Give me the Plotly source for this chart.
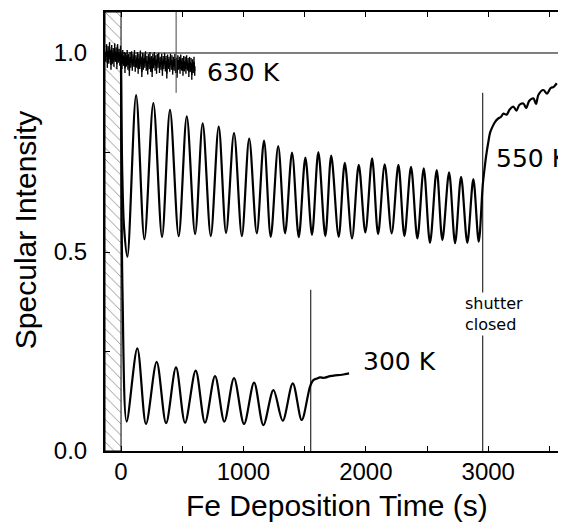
import plotly.graph_objects as go

# 630 K: noisy trace just under 1.0
t630 = [-125, -118, -112, -106, -100, -94, -88, -82, -76, -70, -64, -58, -52, -46, -40, -34, -28,
        -22, -16, -10, -4, 2, 8, 14, 20, 26, 32, 38, 44, 50, 56, 62, 68, 74, 80, 86, 92, 98, 104,
        110, 116, 122, 128, 134, 140, 146, 152, 158, 164, 170, 176, 182, 188, 194, 200, 206, 212,
        218, 224, 230, 236, 242, 248, 254, 260, 266, 272, 278, 284, 290, 296, 302, 308, 314, 320,
        326, 332, 338, 344, 350, 356, 362, 368, 374, 380, 386, 392, 398, 404, 410, 416, 422, 428,
        434, 440, 446, 452, 458, 464, 470, 476, 482, 488, 494, 500, 506, 512, 518, 524, 530, 536,
        542, 548, 554, 560, 566, 572, 578, 584, 590, 596, 602]
i630 = [0.990, 1.010, 0.975, 1.005, 0.985, 1.015, 0.995, 0.970, 1.008, 0.985, 1.000, 0.978, 1.012,
        0.990, 1.002, 0.972, 1.010, 0.988, 0.998, 0.980, 1.006, 0.985, 0.972, 0.995, 0.980, 0.990,
        0.962, 0.988, 0.978, 0.995, 0.970, 0.985, 0.955, 0.990, 0.975, 0.992, 0.968, 0.985, 0.978,
        0.995, 0.965, 0.982, 0.975, 0.990, 0.960, 0.985, 0.972, 0.994, 0.978, 0.952, 0.988, 0.970,
        0.986, 0.975, 0.992, 0.968, 0.980, 0.958, 0.985, 0.972, 0.990, 0.965, 0.980, 0.952, 0.986,
        0.974, 0.990, 0.968, 0.982, 0.960, 0.985, 0.975, 0.988, 0.962, 0.978, 0.970, 0.986, 0.955,
        0.980, 0.972, 0.988, 0.966, 0.980, 0.948, 0.984, 0.972, 0.978, 0.965, 0.986, 0.970, 0.982,
        0.958, 0.978, 0.968, 0.985, 0.962, 0.976, 0.950, 0.982, 0.970, 0.978, 0.960, 0.984, 0.968,
        0.975, 0.955, 0.980, 0.966, 0.978, 0.960, 0.982, 0.968, 0.975, 0.952, 0.978, 0.965, 0.975,
        0.945, 0.972, 0.962, 0.978, 0.955, 0.970]

# 550 K: oscillations, shutter closed at ~2955 s, then recovery
t550 = [0, 10, 25, 52, 123, 191, 264, 335, 400, 471, 537, 605, 667, 733, 798, 858, 923, 987, 1047,
        1109, 1168, 1223, 1284, 1340, 1397, 1452, 1506, 1560, 1612, 1669, 1717, 1778, 1828, 1887,
        1942, 1996, 2051, 2100, 2154, 2211, 2266, 2315, 2369, 2421, 2473, 2524, 2579, 2625, 2680,
        2729, 2778, 2829, 2878, 2922, 2955, 2970, 2982, 3000, 3015, 3035, 3056, 3080, 3105, 3124,
        3150, 3175, 3206, 3230, 3255, 3287, 3310, 3335, 3369, 3390, 3410, 3450, 3480, 3510, 3535, 3560]
i550 = [0.960, 0.700, 0.560, 0.488, 0.894, 0.532, 0.874, 0.538, 0.857, 0.540, 0.841, 0.545, 0.823,
        0.540, 0.815, 0.548, 0.799, 0.540, 0.785, 0.547, 0.780, 0.538, 0.766, 0.547, 0.750, 0.537,
        0.737, 0.543, 0.751, 0.540, 0.742, 0.538, 0.724, 0.534, 0.719, 0.549, 0.735, 0.545, 0.720,
        0.547, 0.719, 0.540, 0.714, 0.534, 0.710, 0.523, 0.706, 0.530, 0.700, 0.522, 0.689, 0.523,
        0.683, 0.526, 0.668, 0.710, 0.740, 0.775, 0.800, 0.815, 0.827, 0.835, 0.840, 0.848, 0.845,
        0.858, 0.865, 0.855, 0.870, 0.873, 0.862, 0.880, 0.886, 0.872, 0.895, 0.907, 0.898, 0.912,
        0.915, 0.924]

# 300 K: oscillations, shutter closed at ~1550 s
t300 = [0, 12, 46, 133, 204, 291, 368, 449, 523, 610, 686, 768, 844, 923, 1005, 1087, 1163, 1245,
        1321, 1403, 1476, 1544, 1571, 1600, 1626, 1660, 1707, 1750, 1790, 1830, 1863]
i300 = [0.980, 0.400, 0.074, 0.258, 0.068, 0.224, 0.070, 0.210, 0.071, 0.202, 0.071, 0.188, 0.074,
        0.183, 0.068, 0.172, 0.065, 0.153, 0.076, 0.170, 0.078, 0.162, 0.178, 0.182, 0.185, 0.184,
        0.188, 0.190, 0.191, 0.193, 0.195]

x_range = [-131, 3627]
y_range = [0, 1.103]

fig = go.Figure()

# hatched region before deposition starts
fig.add_trace(go.Scatter(x=[x_range[0], 0, 0, x_range[0], x_range[0]],
                         y=[0, 0, y_range[1], y_range[1], 0],
                         fill='toself', mode='lines', line=dict(color='black', width=1),
                         fillcolor='white',
                         fillpattern=dict(shape='\\', size=8, solidity=0.1, fgcolor='black', bgcolor='white'),
                         hoverinfo='skip', showlegend=False))

line_style = dict(color='black', width=1)
fig.add_shape(type='line', x0=x_range[0], x1=x_range[1], y0=1.0, y1=1.0, line=line_style)
fig.add_shape(type='line', x0=450, x1=450, y0=0.9, y1=y_range[1], line=dict(color='#444', width=1))
fig.add_shape(type='line', x0=1550, x1=1550, y0=0.405, y1=0, line=line_style)
fig.add_shape(type='line', x0=2955, x1=2955, y0=0.9, y1=0, line=line_style)

fig.add_trace(go.Scatter(x=t630, y=i630, mode='lines+markers',
                         line=dict(color='black', width=1.5),
                         marker=dict(symbol='line-ns', size=7, line=dict(color='black', width=1.4)),
                         showlegend=False))
fig.add_trace(go.Scatter(x=t550, y=i550, mode='lines',
                         line=dict(color='black', width=2.2, shape='spline', smoothing=0.9),
                         showlegend=False))
fig.add_trace(go.Scatter(x=t300, y=i300, mode='lines',
                         line=dict(color='black', width=2.2, shape='spline', smoothing=0.9),
                         showlegend=False))

label_font = dict(family='DejaVu Sans, sans-serif', size=25, color='black')
fig.add_annotation(x=686, y=0.95, text='630 K', showarrow=False, xanchor='left', font=label_font)
fig.add_annotation(x=3047, y=0.734, text='550 K', showarrow=False, xanchor='left', font=label_font)
fig.add_annotation(x=1961, y=0.224, text='300 K', showarrow=False, xanchor='left', font=label_font)
fig.add_annotation(x=2794, y=0.344, text='shutter<br>closed', showarrow=False, xanchor='left',
                   align='left', bgcolor='white',
                   font=dict(family='DejaVu Sans, sans-serif', size=16, color='black'))

title_font = dict(family='Liberation Sans, Arial, sans-serif', size=30, color='black')
fig.add_annotation(xref='paper', yref='paper', x=-0.174, y=0.503, text='Specular Intensity',
                   textangle=-90, showarrow=False, xanchor='center', yanchor='middle', font=title_font)
fig.add_annotation(xref='paper', yref='paper', x=0.504, y=-0.124, text='Fe Deposition Time (s)',
                   showarrow=False, xanchor='center', yanchor='middle', font=title_font)

axis_font = dict(family='Liberation Sans, Arial, sans-serif', size=24, color='black')
fig.update_xaxes(range=x_range, tickvals=[0, 1000, 2000, 3000], ticks='inside', ticklen=5,
                 tickcolor='black', showline=True, linecolor='black', linewidth=2, mirror='ticks',
                 showgrid=False, zeroline=False, tickfont=axis_font, automargin=False,
                 ticklabelstandoff=-2,
                 minor=dict(dtick=500, tick0=0, ticks='inside', ticklen=5, tickcolor='black', showgrid=False))
fig.update_yaxes(range=y_range, tickvals=[0, 0.5, 1.0], ticktext=['0.0', '0.5', '1.0'], ticks='inside',
                 ticklen=5, tickcolor='black', showline=True, linecolor='black', linewidth=2, mirror='ticks',
                 showgrid=False, zeroline=False, tickfont=axis_font, ticklabelstandoff=11, automargin=False,
                 minor=dict(dtick=0.25, tick0=0, ticks='inside', ticklen=5, tickcolor='black', showgrid=False))
# the page body keeps its 8px margin, so the figure is sized and offset to fit the window
fig.update_layout(width=558, height=516, margin=dict(l=97, r=1, t=4, b=73),
                  plot_bgcolor='white', paper_bgcolor='white')
fig.write_html("out.html")
